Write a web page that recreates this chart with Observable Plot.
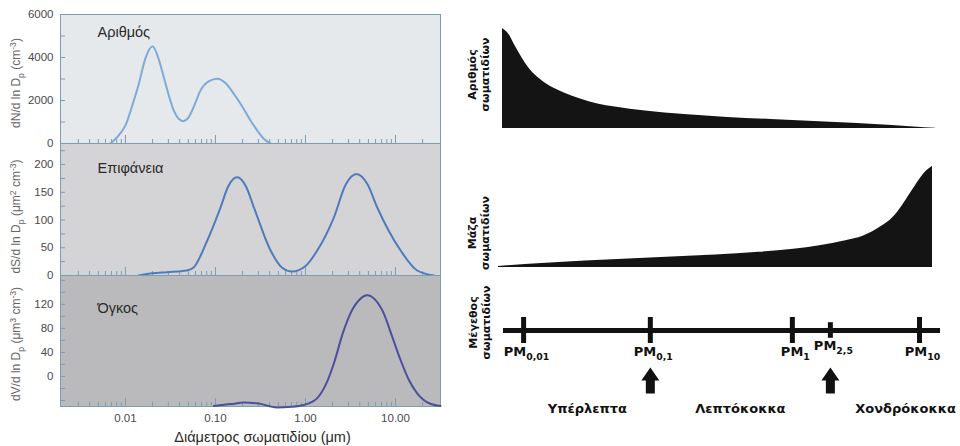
<!DOCTYPE html>
<html><head><meta charset="utf-8">
<script src="https://cdn.jsdelivr.net/npm/d3@7"></script>
<script src="https://cdn.jsdelivr.net/npm/@observablehq/plot@0.6"></script>
<style>
body{margin:0;background:#fff;}
#root{position:relative;width:960px;height:446px;overflow:hidden;background:#fff;}
#root svg{position:absolute;overflow:visible;}
</style></head><body><div id="root"></div>
<script>
// ---------- DATA ----------
// x axis (particle diameter, µm, log scale)
const xDomain = [0.0019, 31.6];
const xMajor = [0.01, 0.1, 1, 10];
const xMinor = [0.003,0.004,0.005,0.006,0.007,0.008,0.009,
                0.02,0.03,0.04,0.05,0.06,0.07,0.08,0.09,
                0.2,0.3,0.4,0.5,0.6,0.7,0.8,0.9,
                2,3,4,5,6,7,8,9,20];
const xTitle = "Διάμετρος σωματιδίου (μm)";

// Number distribution
const numD = [0.0068,0.0081,0.010,0.0124,0.0141,0.0165,0.020,0.0235,0.0267,0.0305,0.0344,0.039,0.044,0.050,0.058,0.068,0.085,0.105,0.13,0.16,0.20,0.245,0.30,0.344,0.41];
const numN = [0,300,840,2000,2780,3900,4520,3900,3080,2200,1540,1150,1040,1200,1750,2460,2900,3010,2800,2310,1700,1070,530,220,0];
const numTicks = [0,2000,4000,6000];
const numMinor = [0,1000,2000,3000,4000,5000,6000];

// Surface distribution
const surfD = [0.014,0.02,0.029,0.048,0.0575,0.081,0.114,0.138,0.174,0.219,0.267,0.41,0.55,0.71,1.0,1.35,2.07,2.8,3.69,4.9,6.25,11.4,17.4,26.7];
const surfS = [0,4,6,9,15,63,123,160,177,160,123,45,14,7,17,45,105,164,183,164,123,45,9,0];
const surfTicks = [0,50,100,150,200];
const surfMinor = [0,25,50,75,100,125,150,175,200,225];

// Volume distribution
const volD = [0.096,0.15,0.206,0.3,0.48,0.7,0.957,1.35,1.7,2.07,2.6,3.16,4.0,4.84,6.0,7.4,9.0,11.4,14,17.4,24,31.6];
const volV = [-49,-46,-43.5,-45,-51.5,-50.5,-47.5,-36,-12,22,72,105,128,135,127,105,70,27,-5,-28,-45,-49];
const volTicks = [0,40,80,120];
const volMinor = [-40,-20,0,20,40,60,80,100,120,140,160];

const panelNames = ["Αριθμός","Επιφάνεια","Όγκος"];
const yTitles = ["dN/d ln D_{p} (cm^{-3})","dS/d ln D_{p} (μm^{2} cm^{-3})","dV/d ln D_{p} (μm^{3} cm^{-3})"];

// Right side schematic (relative size axis 0–100)
const numSchemX = [0,1.5,3,6,10,14,18,22,26,33,42,52,62,72,82,90,95,100];
const numSchemY = [100,94,82,61,45,36,29.5,24.5,21.5,17.5,14,11,9,7,5,3,1.5,0.3];
const massSchemX = [0,10,20,30,40,50,60,68,74,80,84,88,91,93,95,97,98.5,100];
const massSchemY = [1,4,6.5,8.5,10.5,12.5,15,18,21.5,26.5,31,40,50,61,74,87,95,100];
const rightLabels = ["Αριθμός\nσωματιδίων","Μάζα\nσωματιδίων","Μέγεθος\nσωματιδίων"];
const pmLabels = ["0,01","0,1","1","2,5","10"];
const pmPos = [4.6,33.6,66.1,74.8,95.2];
const arrowPos = [33.6,74.8];
const classLabels = ["Υπέρλεπτα","Λεπτόκοκκα","Χονδρόκοκκα"];
const classPos = [19.2,54.2,92];

// ---------- HELPERS ----------
const root = document.getElementById("root");
const frameColor = "#7d9db1";
const leftFont = "'Liberation Sans', Arial, sans-serif";
const rightFont = "'DejaVu Sans', sans-serif";

function place(svg, left, top) {
  svg.style.left = left + "px";
  svg.style.top = top + "px";
  svg.style.background = "transparent";
  root.appendChild(svg);
  richText(svg);
}

function richText(svg) {
  svg.querySelectorAll("text").forEach(t => {
    if (t.children.length) return;
    const s = t.textContent;
    if (!/[_^]\{/.test(s)) return;
    const fs = parseFloat(getComputedStyle(t).fontSize) || 12;
    t.textContent = "";
    const re = /([_^])\{([^}]*)\}/g;
    let last = 0, m, shift = 0;
    const add = (str, kind) => {
      const ts = document.createElementNS("http://www.w3.org/2000/svg", "tspan");
      ts.textContent = str;
      const target = kind === "_" ? fs * 0.3 : kind === "^" ? -fs * 0.4 : 0;
      ts.setAttribute("dy", (target - shift).toFixed(2));
      shift = target;
      if (kind) ts.setAttribute("font-size", (fs * 0.72).toFixed(2));
      t.appendChild(ts);
    };
    while ((m = re.exec(s))) {
      if (m.index > last) add(s.slice(last, m.index), null);
      add(m[2], m[1]);
      last = re.lastIndex;
    }
    if (last < s.length) add(s.slice(last), null);
  });
}

function leftPanel(o) {
  const data = o.xs.map((x, i) => ({x, y: o.ys[i]}));
  const marks = [
    Plot.frame({fill: o.bg, stroke: frameColor}),
    Plot.axisX({ticks: xMinor, tickSize: -4, fill: "none", stroke: frameColor, label: null}),
    Plot.axisX({ticks: xMajor, tickSize: -8, fill: "none", stroke: frameColor, label: null}),
    Plot.axisY({ticks: o.minor, tickSize: -5, fill: "none", stroke: frameColor, label: null}),
    Plot.axisY({ticks: o.ticks, tickFormat: d3.format("d"), tickSize: 0, tickPadding: 7, fontSize: 11.5, fill: "#4a4a4a", label: null}),
    Plot.lineY(data, {x: "x", y: "y", stroke: o.color, strokeWidth: 2, curve: "monotone-x"}),
    Plot.text([o.name], {frameAnchor: "top-left", textAnchor: "start", lineAnchor: "middle", dx: 37, dy: o.nameDy, fontSize: 14.5, fill: "#2a2a2a"}),
    Plot.text([o.ytitle], {frameAnchor: "left", textAnchor: "middle", lineAnchor: "middle", rotate: -90, dx: -44, dy: o.ytDy, fontSize: 12, fill: "#666"})
  ];
  if (o.last) {
    marks.push(
      Plot.axisX({ticks: xMajor, tickFormat: d3.format(".2f"), tickSize: 0, tickPadding: 7, fontSize: 11.5, fill: "#4a4a4a", label: null}),
      Plot.text([xTitle], {frameAnchor: "bottom", lineAnchor: "middle", dx: 12, dy: 31, fontSize: 14.5, fill: "#2a2a2a"})
    );
  }
  return Plot.plot({
    width: 450, height: o.height,
    marginTop: o.mt, marginBottom: o.mb, marginLeft: 60, marginRight: 10,
    style: {fontFamily: leftFont, background: "transparent", overflow: "visible"},
    x: {type: "log", domain: xDomain},
    y: {domain: o.domain, label: null},
    marks
  });
}

// ---------- LEFT PANELS ----------
place(leftPanel({height: 150, mt: 14, mb: 7, domain: [0, 6000], ticks: numTicks, minor: numMinor,
  bg: "#e6e9eb", color: "#7eaad8", xs: numD, ys: numN, name: panelNames[0], nameDy: 18,
  ytitle: yTitles[0], ytDy: 4}), 0, 0);
place(leftPanel({height: 140, mt: 3, mb: 5, domain: [0, 238], ticks: surfTicks, minor: surfMinor,
  bg: "#d4d4d6", color: "#4f7bbd", xs: surfD, ys: surfS, name: panelNames[1], nameDy: 25,
  ytitle: yTitles[1], ytDy: 7}), 0, 140);
place(leftPanel({height: 176, mt: 5, mb: 40, domain: [-50, 168], ticks: volTicks, minor: volMinor,
  bg: "#bababc", color: "#4b4f9c", xs: volD, ys: volV, name: panelNames[2], nameDy: 33,
  ytitle: yTitles[2], ytDy: 3, last: true}), 0, 270);

// ---------- RIGHT SCHEMATICS ----------
function areaPanel(o) {
  const data = o.xs.map((x, i) => ({x, y: o.ys[i]}));
  return Plot.plot({
    width: 500, height: o.height,
    marginTop: o.mt, marginBottom: o.mb, marginLeft: o.ml, marginRight: o.mr,
    style: {fontFamily: rightFont, background: "transparent", overflow: "visible"},
    x: {domain: [0, 100], axis: null},
    y: {domain: [0, 100], axis: null},
    marks: [
      Plot.areaY(data, {x: "x", y: "y", fill: "#141414", curve: "monotone-x"}),
      Plot.text([o.label], {frameAnchor: "left", textAnchor: "middle", lineAnchor: "middle", rotate: -90, dx: o.ldx, dy: o.ldy, fontSize: 11, fontWeight: "bold", lineHeight: 1.2, fill: "#111"})
    ]
  });
}
place(areaPanel({height: 150, mt: 28, mb: 22, ml: 42, mr: 25, xs: numSchemX, ys: numSchemY,
  label: rightLabels[0], ldx: -24, ldy: -4}), 460, 0);
place(areaPanel({height: 140, mt: 16, mb: 23, ml: 38, mr: 28, xs: massSchemX, ys: massSchemY,
  label: rightLabels[1], ldx: -20, ldy: 16}), 460, 150);

// size axis
const pmData = pmLabels.map((label, i) => ({label, pos: pmPos[i]}));
const isShort = d => d.label === "2,5";
const blockArrow = {
  draw(ctx, l) {
    const hw = 9, sw = 4.5, head = l * 0.5;
    ctx.moveTo(-sw, 0); ctx.lineTo(-sw, -l + head); ctx.lineTo(-hw, -l + head);
    ctx.lineTo(0, -l); ctx.lineTo(hw, -l + head); ctx.lineTo(sw, -l + head);
    ctx.lineTo(sw, 0); ctx.closePath();
  }
};
place(Plot.plot({
  width: 500, height: 156, marginTop: 27, marginBottom: 103, marginLeft: 43, marginRight: 20,
  style: {fontFamily: rightFont, background: "transparent", overflow: "visible"},
  x: {domain: [0, 100], axis: null},
  y: {domain: [-1, 1], axis: null},
  marks: [
    Plot.ruleY([0], {stroke: "#111", strokeWidth: 5}),
    Plot.ruleX(pmData, {x: "pos", y1: d => isShort(d) ? -0.6 : -1, y2: d => isShort(d) ? 0.6 : 1, stroke: "#111", strokeWidth: 5}),
    Plot.text(pmData, {x: "pos", y: d => isShort(d) ? -0.6 : -1, text: d => `PM_{${d.label}}`, dy: 8, dx: 3, fontSize: 13, fontWeight: "bold", fill: "#111"}),
    Plot.vector(arrowPos, {x: d => d, frameAnchor: "bottom", anchor: "start", length: 26, shape: blockArrow, fill: "#111", stroke: "none", dy: 50}),
    Plot.text(classLabels, {x: (d, i) => classPos[i], text: d => d, frameAnchor: "bottom", lineAnchor: "middle", dy: 65, fontSize: 13, fontWeight: "bold", fill: "#111"}),
    Plot.text([rightLabels[2]], {frameAnchor: "left", textAnchor: "middle", lineAnchor: "middle", rotate: -90, dx: -24, dy: -8, fontSize: 11, fontWeight: "bold", lineHeight: 1.2, fill: "#111"})
  ]
}), 460, 290);
</script></body></html>
